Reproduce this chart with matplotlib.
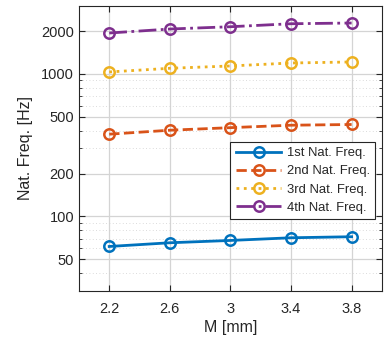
import matplotlib.pyplot as plt
from matplotlib.ticker import FixedLocator, NullFormatter, LogLocator

plt.rcParams['font.family'] = ['Liberation Sans', 'DejaVu Sans']

# Thickness M [mm] and natural frequencies [Hz]
M = [2.2, 2.6, 3.0, 3.4, 3.8]
f1 = [61.6, 65.4, 67.9, 70.9, 72.1]
f2 = [378, 403, 420, 437, 442]
f3 = [1033, 1096, 1138, 1194, 1214]
f4 = [1938, 2067, 2145, 2251, 2278]
labels = ['1st Nat. Freq.', '2nd Nat. Freq.', '3rd Nat. Freq.', '4th Nat. Freq.']

colors = ['#0072BD', '#D95319', '#EDB120', '#7E2F8E']
styles = ['-', '--', ':', '-.']
txt = '#262626'

fig = plt.figure(figsize=(3.85, 3.43), dpi=100)
ax = fig.add_axes([0.205, 0.1516, 0.787, 0.831])

for y, c, ls, lab in zip([f1, f2, f3, f4], colors, styles, labels):
    ax.plot(M, y, ls, color=c, lw=2, marker='o', ms=7.5, mew=1.8,
            mfc='none', label=lab)

ax.set_yscale('log')
ax.set_xlim(2.0, 4.0)
ax.set_ylim(30, 3000)
ax.xaxis.set_major_locator(FixedLocator(M))
ax.set_xticklabels(['2.2', '2.6', '3', '3.4', '3.8'])
ax.yaxis.set_major_locator(FixedLocator([50, 100, 200, 500, 1000, 2000]))
ax.set_yticklabels(['50', '100', '200', '500', '1000', '2000'])
ax.yaxis.set_minor_locator(LogLocator(base=10, subs=range(2, 10)))
ax.yaxis.set_minor_formatter(NullFormatter())

ax.grid(True, which='major', color='#d4d4d4', lw=0.9)
ax.grid(True, which='minor', axis='y', color='#cfcfcf', lw=0.6, ls=(0, (1, 3)))
ax.set_axisbelow(True)

ax.tick_params(which='both', direction='in', top=True, right=True,
               colors=txt, labelsize=10.5, length=4)
ax.tick_params(which='minor', length=2.5)
ax.tick_params(axis='x', pad=8)
for s in ax.spines.values():
    s.set_color(txt)
    s.set_linewidth(0.8)

ax.set_xlabel('M [mm]', fontsize=11.5, color=txt, labelpad=3)
ax.set_ylabel('Nat. Freq. [Hz]', fontsize=11.5, color=txt, labelpad=6)

leg = ax.legend(loc='lower right', bbox_to_anchor=(0.977, 0.2526),
                fontsize=9.4, handlelength=3.5, labelspacing=0.46,
                borderpad=0.4, handletextpad=0.4, borderaxespad=0,
                fancybox=False, framealpha=1, edgecolor=txt)
leg.get_frame().set_linewidth(0.8)
for t in leg.get_texts():
    t.set_color(txt)

fig.savefig('out.png', dpi=100)
